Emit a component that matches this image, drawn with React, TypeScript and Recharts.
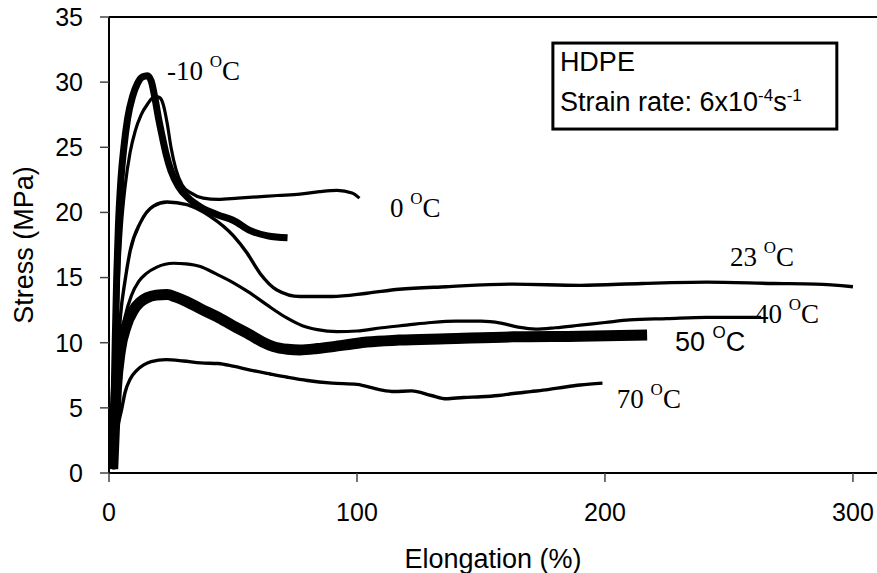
import React from 'react';
import { LineChart, Line, XAxis, YAxis, ReferenceLine, ReferenceDot, ReferenceArea } from 'recharts';

const SANS = "'Liberation Sans', Arial, sans-serif";
const SERIF = "'Liberation Serif', 'Times New Roman', serif";

const xTicks = [0, 100, 200, 300];
const yTicks = [0, 5, 10, 15, 20, 25, 30, 35];

// [elongation %, stress MPa]
const curveM10 = [
  [1.5, 0.3], [2, 5], [2.5, 10], [3.1, 15], [3.8, 19], [4.8, 22.5], [6, 25], [7.5, 27.2], [9.5, 28.9],
  [11.5, 29.9], [13.5, 30.4], [15.5, 30.5], [17, 30.1], [18.5, 28.8], [20, 27.2], [21.5, 25.8], [23, 24.5],
  [25, 23.2], [28, 22], [32, 21.1], [37, 20.4], [44, 19.8], [50, 19.4], [57, 18.6], [64, 18.2], [72, 18.05],
];
const curve0 = [
  [1.5, 0.3], [2.2, 5], [2.9, 10], [3.8, 15], [5, 19], [6.5, 22], [8.5, 24.6], [10.5, 26.2], [13, 27.5],
  [15.5, 28.3], [18.5, 28.9], [20.5, 28.8], [22, 28.2], [23.5, 26.8], [25, 25], [27, 23.3], [29.5, 22.1],
  [33, 21.5], [38, 21.1], [44, 21.0], [52, 21.1], [60, 21.2], [68, 21.3], [77, 21.4], [85, 21.6], [92, 21.7],
  [98, 21.5], [101, 21.1],
];
const curve23 = [
  [1.5, 0.3], [2.5, 5], [3.5, 9], [4.6, 12], [6.5, 14.8], [8.6, 17.1], [12.6, 19.2], [18, 20.5], [23.4, 20.8],
  [31.4, 20.6], [40.8, 19.7], [50.2, 18.2], [55.6, 16.9], [61, 15.3], [67.7, 14.05], [77, 13.55], [90, 13.55],
  [104, 13.8], [117, 14.1], [136, 14.3], [163, 14.5], [190, 14.4], [215, 14.55], [241, 14.65], [268, 14.55],
  [285, 14.5], [300, 14.3],
];
const curve40 = [
  [1.5, 0.3], [2.4, 4], [3.3, 7], [4.5, 9.8], [6.5, 12], [9, 13.6], [12, 14.7], [15, 15.3], [19.3, 15.8],
  [26, 16.1], [31, 16.05], [36.8, 15.85], [43, 15.3], [50.2, 14.6], [57, 13.8], [63.7, 12.9], [71.7, 11.9],
  [78, 11.3], [84, 11.0], [92, 10.85], [100, 10.9], [110, 11.15], [120, 11.35], [130, 11.55], [140, 11.65],
  [150, 11.65], [158, 11.5], [165, 11.2], [172, 11.05], [180, 11.15], [190, 11.35], [200, 11.55], [210, 11.75],
  [225, 11.85], [241, 11.95], [255, 11.95], [263, 11.95],
];
const curve50 = [
  [1.5, 0.3], [2.2, 3.5], [3, 6.5], [4.6, 9.4], [7, 11.3], [9.9, 12.5], [12.5, 13.1], [15.3, 13.45], [19, 13.65],
  [23.4, 13.7], [27, 13.5], [31.4, 13.15], [37, 12.6], [43.5, 12.0], [50, 11.3], [56.9, 10.6], [62, 10.05],
  [66.3, 9.7], [72, 9.5], [77, 9.45], [84, 9.55], [90.5, 9.7], [98, 9.9], [104, 10.05], [117, 10.2], [136, 10.3],
  [163, 10.45], [190, 10.5], [217, 10.6],
];
const curve70 = [
  [1.5, 0.3], [2.5, 2], [3.5, 3.5], [5, 4.8], [6.5, 6.2], [8.5, 7.2], [11.3, 7.9], [14, 8.3], [17, 8.55],
  [23, 8.7], [30, 8.6], [37, 8.45], [44, 8.4], [50, 8.2], [57, 7.9], [65, 7.6], [72, 7.35], [80, 7.1], [90, 6.9],
  [100, 6.8], [109, 6.4], [115, 6.25], [122, 6.3], [130, 5.95], [136, 5.7], [143, 5.8], [150, 5.85], [157, 5.95],
  [163, 6.1], [170, 6.25], [177, 6.4], [184, 6.6], [190, 6.75], [199, 6.9],
];

const toPts = (arr: number[][]) => arr.map(([x, y]) => ({ x, y }));

const series = [
  { key: 'm10', data: toPts(curveM10), width: 7 },
  { key: 'c50', data: toPts(curve50), width: 11 },
  { key: 'c0', data: toPts(curve0), width: 3.2 },
  { key: 'c23', data: toPts(curve23), width: 3.4 },
  { key: 'c40', data: toPts(curve40), width: 3.2 },
  { key: 'c70', data: toPts(curve70), width: 3.4 },
];

// label anchors (left/baseline) in data coordinates
const tempLabels = [
  { x: 23.4, y: 30.2, num: '-10', font: SERIF },
  { x: 113.3, y: 19.65, num: '0', font: SERIF },
  { x: 250.4, y: 15.88, num: '23', font: SERIF },
  { x: 260.5, y: 11.51, num: '40', font: SERIF },
  { x: 228.2, y: 9.36, num: '50', font: SANS },
  { x: 204.8, y: 5.0, num: '70', font: SERIF },
];

const legendBox = { x1: 179, x2: 293.5, y1: 26.4, y2: 33.0 };
const legendLine1 = 'HDPE';
const legendLine2 = 'Strain rate: 6x10';

const makeTempShape = (num: string, font: string) => (p: any) => (
  <text x={p.cx} y={p.cy} fontFamily={font} fontSize={27} fill="#000">
    {num}{' '}
    <tspan dy={-13} fontSize={17}>O</tspan>
    <tspan dy={13}>C</tspan>
  </text>
);

const LegendShape = (p: any) => (
  <g>
    <rect x={p.x} y={p.y} width={p.width} height={p.height} fill="#fff" stroke="#000" strokeWidth={3} />
    <text x={p.x + 7} y={p.y + 28} fontFamily={SANS} fontSize={27} fill="#000">{legendLine1}</text>
    <text x={p.x + 7} y={p.y + 68} fontFamily={SANS} fontSize={27} fill="#000">
      {legendLine2}
      <tspan dy={-10} fontSize={17}>-4</tspan>
      <tspan dy={10}>s</tspan>
      <tspan dy={-10} fontSize={17}>-1</tspan>
    </text>
  </g>
);

export default function App() {
  const tickStyle = { fill: '#000', fontSize: 25, fontFamily: SANS };
  return (
    <div style={{ position: 'absolute', left: 0, top: 0, width: 877, height: 573, background: '#fff' }}>
      <LineChart width={877} height={573} margin={{ top: 17, right: 0, bottom: 0, left: 0 }}>
        <XAxis
          type="number"
          dataKey="x"
          domain={[0, 309.7]}
          allowDataOverflow
          ticks={xTicks}
          interval={0}
          height={100}
          tickSize={9}
          tickMargin={21}
          axisLine={{ stroke: '#000', strokeWidth: 2 }}
          tickLine={{ stroke: '#444', strokeWidth: 1.5 }}
          tick={tickStyle}
          label={{ value: 'Elongation (%)', position: 'insideBottom', offset: 5, fontSize: 27, fill: '#000', fontFamily: SANS }}
        />
        <YAxis
          type="number"
          dataKey="y"
          domain={[0, 35]}
          allowDataOverflow
          ticks={yTicks}
          interval={0}
          width={109}
          tickSize={9}
          tickMargin={17}
          axisLine={{ stroke: '#000', strokeWidth: 2 }}
          tickLine={{ stroke: '#444', strokeWidth: 1.5 }}
          tick={tickStyle}
          label={{ value: 'Stress (MPa)', angle: -90, position: 'insideLeft', offset: 23, fontSize: 27, fill: '#000', fontFamily: SANS, style: { textAnchor: 'middle' } }}
        />
        <ReferenceLine y={35} stroke="#000" strokeWidth={2} />
        {series.map((s) => (
          <Line
            key={s.key}
            data={s.data}
            dataKey="y"
            type="monotone"
            stroke="#000"
            strokeWidth={s.width}
            strokeLinejoin="round"
            strokeLinecap="butt"
            dot={false}
            activeDot={false}
            isAnimationActive={false}
          />
        ))}
        <ReferenceArea x1={legendBox.x1} x2={legendBox.x2} y1={legendBox.y1} y2={legendBox.y2} shape={LegendShape} />
        {tempLabels.map((l) => (
          <ReferenceDot key={l.num} x={l.x} y={l.y} r={0} fill="none" stroke="none" shape={makeTempShape(l.num, l.font)} />
        ))}
      </LineChart>
    </div>
  );
}
